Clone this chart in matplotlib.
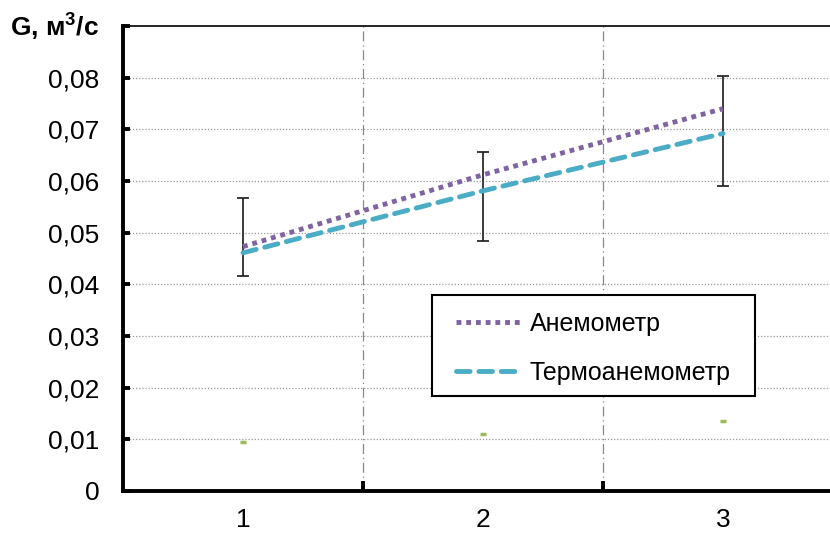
import matplotlib
matplotlib.use("Agg")
import matplotlib.pyplot as plt
from matplotlib.ticker import FixedLocator
from matplotlib.patches import Rectangle

plt.rcParams['font.family'] = ['Liberation Sans', 'DejaVu Sans']
plt.rcParams['mathtext.fontset'] = 'custom'
plt.rcParams['mathtext.rm'] = 'Liberation Sans'
plt.rcParams['mathtext.bf'] = 'Liberation Sans:bold'

# данные
points = [1, 2, 3]
anemometer = [0.0473, 0.0612, 0.0740]
thermo = [0.0461, 0.0581, 0.0692]
err_low = [0.0417, 0.0483, 0.0591]
err_high = [0.0568, 0.0657, 0.0804]
small = [0.0095, 0.0110, 0.0136]
yticks = [0, 0.01, 0.02, 0.03, 0.04, 0.05, 0.06, 0.07, 0.08]
ylabels = ['0', '0,01', '0,02', '0,03', '0,04', '0,05', '0,06', '0,07', '0,08']

fig = plt.figure(figsize=(8.3, 5.33), dpi=100)
ax = fig.add_axes([123/830, 1 - 491/533, (843 - 123)/830, (491 - 26)/533])
ax.set_xlim(0.5, 3.5)
ax.set_ylim(0, 0.09)

# сетка
for y in yticks[1:]:
    ax.axhline(y, color='#999999', lw=0.9, ls=(0, (1, 1.5)), zorder=1)
for x in [1.5, 2.5]:
    ax.axvline(x, color='#888888', lw=0.9, ls=(0, (8, 3, 1, 3)), zorder=1)

# погрешности
mid = [(a + b) / 2 for a, b in zip(err_low, err_high)]
yerr = [[m - a for m, a in zip(mid, err_low)], [b - m for m, b in zip(mid, err_high)]]
ax.errorbar(points, mid, yerr=yerr, fmt='none', ecolor='#1a1a1a', elinewidth=1.2,
            capsize=4.5, capthick=1.2, zorder=3)

ax.plot(points, anemometer, color='#8064a2', lw=3.5, ls=(0, (1, 1)),
        dash_capstyle='butt', label='Анемометр', zorder=4)
ax.plot(points, thermo, color='#4bacc6', lw=3.5, ls=(0, (2.8, 1.8)),
        dash_capstyle='round', label='Термоанемометр', zorder=4)
ax.plot(points, small, ls='none', marker='_', ms=5, mew=2.5, color='#9bbb59', zorder=4)

# оси
ax.spines['right'].set_visible(False)
ax.spines['top'].set_linewidth(1.2)
ax.spines['left'].set_linewidth(2.8)
ax.spines['bottom'].set_linewidth(2.8)
ax.yaxis.set_major_locator(FixedLocator(yticks + [0.09]))
ax.set_yticklabels(ylabels + [''])
ax.tick_params(axis='y', direction='in', length=5, width=2.8, pad=17, labelsize=19)
ax.set_xticks(points)
ax.set_xticklabels(['1', '2', '3'])
ax.xaxis.set_minor_locator(FixedLocator([1.5, 2.5]))
ax.tick_params(axis='x', which='major', length=0, pad=12, labelsize=19)
ax.tick_params(axis='x', which='minor', direction='in', length=7, width=2.8)

ax.annotate(r'G, м$^{\mathbf{3}}$/с', xy=(0, 0.09), xycoords=ax.get_yaxis_transform(),
            xytext=(-17, 0), textcoords='offset points', ha='right', va='center',
            fontsize=19, fontweight='bold')

# легенда: рамка отдельно
fig.patches.append(Rectangle((432/830, 1 - 396/533), (755 - 432)/830, (396 - 295)/533,
                             transform=fig.transFigure, facecolor='white',
                             edgecolor='black', lw=1.5, zorder=5))
leg = fig.legend(loc='center left', bbox_to_anchor=(456/830, 1 - 348.5/533),
                 borderaxespad=0, borderpad=0, frameon=False, fontsize=18,
                 handlelength=2.6, labelspacing=1.0, handletextpad=0.35)
leg.set_zorder(6)

fig.savefig('out.png', dpi=100)
